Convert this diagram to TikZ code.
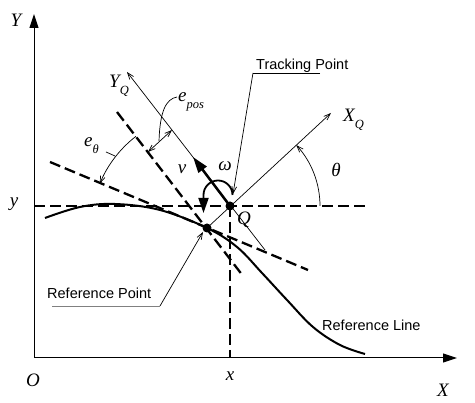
\documentclass[tikz,border=0pt]{standalone}
\usepackage{fontspec}
\setmainfont{Liberation Sans}
\newfontfamily\tms{Liberation Serif}
\usetikzlibrary{arrows.meta}
\newcommand\mlab[1]{{\tms\itshape\fontsize{19}{21}\selectfont #1}}
\newcommand\msub[1]{\raisebox{-0.35em}{\fontsize{12.5}{13}\selectfont #1}}
\begin{document}
\begin{tikzpicture}[x=1pt,y=1pt,
  thin line/.style={line width=0.7pt},
  barb/.style={-{Straight Barb[length=6pt,angle=40:7pt]}},
  dbarb/.style={{Straight Barb[length=6pt,angle=40:7pt]}-{Straight Barb[length=6pt,angle=40:7pt]}},
  dash line/.style={line width=2.3pt,dash pattern=on 11pt off 5pt},
  axis/.style={line width=1pt,-{Triangle[length=14pt,width=9pt]}},
  sanslab/.style={font=\fontsize{14.5}{16}\selectfont,inner sep=0pt},
  mathlab/.style={inner sep=0pt},
  dot/.style={circle,fill=black,inner sep=0pt,minimum size=9pt}]
\useasboundingbox (0,0) rectangle (475,403);
% key points
\coordinate (O) at (34,45);
\coordinate (Ytop) at (34,389);
\coordinate (Xend) at (457,45);
\coordinate (Qp) at (230,197);
\coordinate (Rp) at (207,175);
% axes
\draw[axis] (O) -- (Ytop);
\draw[axis] (O) -- (Xend);
% dashed lines
\coordinate (h1) at (34,197); \coordinate (h2) at (365,197);
\draw[dash line] (h1) -- (h2);
\coordinate (v2) at (230,45);
\draw[dash line] (Qp) -- (v2);
\coordinate (d1a) at (117,291); \coordinate (d1b) at (243,127);
\draw[dash line] (d1a) -- (d1b);
\coordinate (d2a) at (50,241); \coordinate (d2b) at (308,133);
\draw[dash line] (d2a) -- (d2b);
% reference line
\draw[line width=2pt] plot[smooth,tension=0.6] coordinates
  {(45,185) (80,196) (115,199) (160,193) (207,175) (237,156) (262,130) (287,103) (313,76) (340,58) (365,49)};
% local axes
\coordinate (XQtip) at (331,290);
\draw[thin line,barb] (Rp) -- (XQtip);
\coordinate (YQa) at (265,153); \coordinate (YQtip) at (127,331);
\draw[thin line,barb] (YQa) -- (YQtip);
% v arrow
\coordinate (vtip) at (193,246);
\draw[line width=2.5pt,-{Triangle[length=16pt,width=10pt]}] (Qp) -- (vtip);
% omega arc
\coordinate (om) at (232.5,208);
\draw[line width=1.8pt,-{Triangle[length=15pt,width=10pt]}] (om) arc[start angle=0,end angle=180,radius=14.5] -- ++(0,-18);
% theta arc
\draw[thin line,barb] (320,197) arc[start angle=0,end angle=42.6,radius=90];
% e_theta arc
\draw[thin line,barb] (Rp) ++(127.8:116) arc[start angle=127.8,end angle=157.5,radius=116];
\coordinate (et1) at (106,251); \coordinate (et2) at (115,247);
\draw[thin line] (et1) -- (et2);
% e_pos
\coordinate (ep1) at (148,251); \coordinate (ep2) at (172,273);
\draw[thin line,dbarb] (ep1) -- (ep2);
\coordinate (epm) at (159,262); \coordinate (epl) at (177,306);
\draw[thin line] (epm) .. controls (160,292) and (166,304) .. (epl);
% points
\node[dot] (Q) at (Qp) {};
\node[dot] (R) at (Rp) {};
% labels
\node[mathlab] (lY) at (16,383) {\mlab{Y}};
\node[mathlab] (lO) at (33,23) {\mlab{O}};
\node[mathlab] (lx) at (230,27) {\mlab{x}};
\node[mathlab] (lX) at (443,13) {\mlab{X}};
\node[mathlab,anchor=base] (ly) at (14,196) {\mlab{y}};
\node[mathlab,anchor=base west] (lYQ) at (109,315) {\mlab{Y\msub{Q}}};
\node[mathlab,anchor=base west] (lXQ) at (343,281) {\mlab{X\msub{Q}}};
\node[mathlab] (lth) at (336,233) {\mlab{θ}};
\node[mathlab] (lom) at (225,237) {\mlab{ω}};
\node[mathlab] (lv) at (182,234) {\mlab{v}};
\node[mathlab] (lQ) at (244,183) {\mlab{Q}};
\node[mathlab,anchor=base west] (let) at (84,256) {\mlab{e\msub{θ}}};
\node[mathlab,anchor=base west] (lep) at (178,301) {\mlab{e\msub{pos}}};
% tracking point
\node[sanslab,anchor=base west] (tp) at (256,333) {Tracking Point};
\coordinate (tpu1) at (253,330); \coordinate (tpu2) at (320,330);
\coordinate (tptip) at (233,209);
\draw[thin line] (tpu2) -- (tpu1);
\draw[thin line,barb] (tpu1) -- (tptip);
% reference point
\node[sanslab,anchor=base west] (rp) at (47,104) {Reference Point};
\coordinate (rpu1) at (52,97); \coordinate (rpu2) at (160,97);
\coordinate (rptip) at (203,171);
\draw[thin line,gray] (rpu1) -- (rpu2);
\draw[thin line,barb] (rpu2) -- (rptip);
% reference line label
\node[sanslab,anchor=base west] (rl) at (322,72) {Reference Line};
\end{tikzpicture}
\end{document}
